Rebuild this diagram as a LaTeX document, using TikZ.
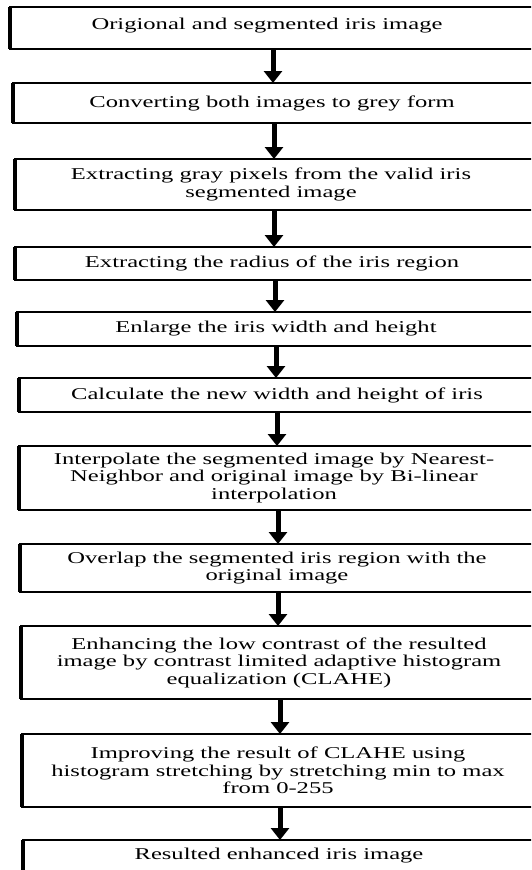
\documentclass[tikz,border=0pt]{standalone}
\usepackage{fontspec}
\setmainfont{Liberation Serif}[FakeStretch=1.49]
\usetikzlibrary{arrows.meta}
\begin{document}
\begin{tikzpicture}[x=1pt,y=-1pt,
  frame/.style={draw=black, line width=1.3pt, inner sep=0pt, outer sep=0pt, anchor=north west},
  txt/.style={align=center, inner sep=0pt, font=\fontsize{16.5}{17.5}\selectfont},
  flow/.style={line width=5pt, -{Triangle[width=18pt,length=12pt]}},
  leftedge/.style={line width=3.2pt}]
\useasboundingbox (0,0) rectangle (531,870);
\clip (0,0) rectangle (531,870);
\fill[white] (0,0) rectangle (531,870);
% boxes
\node[frame, minimum width=550pt, minimum height=42pt] (b1) at (10,7) {};
\node[frame, minimum width=547pt, minimum height=40pt] (b2) at (13,83) {};
\node[frame, minimum width=545pt, minimum height=51pt] (b3) at (15,159) {};
\node[frame, minimum width=545pt, minimum height=33pt] (b4) at (15,247) {};
\node[frame, minimum width=543pt, minimum height=34pt] (b5) at (17,312) {};
\node[frame, minimum width=541pt, minimum height=34pt] (b6) at (19,378) {};
\node[frame, minimum width=541pt, minimum height=64pt] (b7) at (19,446) {};
\node[frame, minimum width=540pt, minimum height=48pt] (b8) at (20,544) {};
\node[frame, minimum width=539pt, minimum height=73pt] (b9) at (21,626) {};
\node[frame, minimum width=538pt, minimum height=73pt] (b10) at (22,734) {};
\node[frame, minimum width=537pt, minimum height=45pt] (b11) at (23,840) {};
\foreach \i in {1,...,11} {\draw[leftedge] (b\i.north west) -- (b\i.south west);}
% texts
\node[txt] (t1) at (267,26) {Origional and segmented iris image};
\node[txt] (t2) at (272,103) {Converting both images to grey form};
\node[txt] (t3) at (271,184.5) {Extracting gray pixels from the valid iris\\segmented image};
\node[txt] (t4) at (272,263.5) {Extracting the radius of the iris region};
\node[txt] (t5) at (276,329) {Enlarge the iris width and height};
\node[txt] (t6) at (277,395) {Calculate the new width and height of iris};
\node[txt] (t7) at (274,478) {Interpolate the segmented image by Nearest-\\Neighbor and original image by Bi-linear\\interpolation};
\node[txt] (t8) at (277,568) {Overlap the segmented iris region with the\\original image};
\node[txt] (t9) at (279,662.5) {Enhancing the low contrast of the resulted\\image by contrast limited adaptive histogram\\equalization (CLAHE)};
\node[txt] (t10) at (278,770.5) {Improving the result of CLAHE using\\histogram stretching by stretching min to max\\from 0-255};
\node[txt] (t11) at (279,856) {Resulted enhanced iris image};
% arrow columns
\coordinate (a1) at (273,0);
\coordinate (a2) at (274,0);
\coordinate (a3) at (274,0);
\coordinate (a4) at (275,0);
\coordinate (a5) at (276,0);
\coordinate (a6) at (277,0);
\coordinate (a7) at (278,0);
\coordinate (a8) at (278,0);
\coordinate (a9) at (280,0);
\coordinate (a10) at (280,0);
\draw[flow] (b1.south west -| a1) -- (b2.north west -| a1);
\draw[flow] (b2.south west -| a2) -- (b3.north west -| a2);
\draw[flow] (b3.south west -| a3) -- (b4.north west -| a3);
\draw[flow] (b4.south west -| a4) -- (b5.north west -| a4);
\draw[flow] (b5.south west -| a5) -- (b6.north west -| a5);
\draw[flow] (b6.south west -| a6) -- (b7.north west -| a6);
\draw[flow] (b7.south west -| a7) -- (b8.north west -| a7);
\draw[flow] (b8.south west -| a8) -- (b9.north west -| a8);
\draw[flow] (b9.south west -| a9) -- (b10.north west -| a9);
\draw[flow] (b10.south west -| a10) -- (b11.north west -| a10);
\end{tikzpicture}
\end{document}
